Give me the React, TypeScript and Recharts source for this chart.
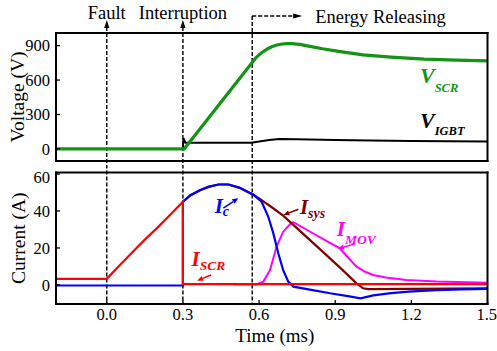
import React from 'react';
import { LineChart, Line, XAxis, YAxis, ReferenceLine, ReferenceDot } from 'recharts';

const FONT = '"Liberation Serif", "Times New Roman", Times, serif';

// Axes
const timeDomain: [number, number] = [-0.2, 1.5];
const timeTicks = [0, 0.3, 0.6, 0.9, 1.2, 1.5];
const voltageDomain: [number, number] = [-105, 1010];
const voltageTicks = [0, 300, 600, 900];
const currentDomain: [number, number] = [-10.3, 60.8];
const currentTicks = [0, 20, 40, 60];

// Event markers
const eventTimes = [0, 0.3];
const eventLabels = ['Fault', 'Interruption'];
const releaseTime = 0.573;
const releaseLabel = 'Energy Releasing';

// Voltage series (ms, V)
const vScrTime = [-0.2, 0.305, 0.59, 0.61, 0.63, 0.65, 0.67, 0.69, 0.71, 0.73, 0.76, 0.79, 0.85, 0.92, 1.01, 1.12, 1.25, 1.38, 1.5];
const vScrValue = [0, 0, 800, 838, 868, 890, 905, 914, 918, 918, 911, 898, 873, 848, 820, 800, 782, 773, 768];
const vIgbtTime = [-0.2, 0.3, 0.302, 0.31, 0.57, 0.6, 0.64, 0.68, 0.75, 0.9, 1.04, 1.2, 1.5];
const vIgbtValue = [0, 0, 95, 55, 55, 64, 78, 86, 85, 79, 73, 69, 64];

// Current series (ms, A)
const iScrTime = [-0.2, 0, 0.05, 0.1, 0.15, 0.2, 0.25, 0.3, 0.3, 1.5];
const iScrValue = [3.3, 3.3, 10.5, 17.5, 24.5, 31, 38, 45, 0.4, 0.4];
const icTime = [-0.2, 0.3, 0.3, 0.33, 0.367, 0.4, 0.44, 0.48, 0.524, 0.577, 0.61, 0.636, 0.656, 0.676, 0.695, 0.715, 0.735, 0.8, 0.88, 0.95, 1.0, 1.05, 1.12, 1.19, 1.3, 1.4, 1.5];
const icValue = [-0.3, -0.3, 45, 48.5, 51.2, 53, 54.3, 54.3, 52.5, 48.8, 45, 37, 28, 17, 8, 1.8, -0.9, -2.5, -4.5, -6, -7.2, -5.6, -4.4, -3.6, -2.8, -2.4, -2.1];
const iSysTime = [0.3, 0.33, 0.367, 0.4, 0.44, 0.48, 0.524, 0.577, 0.603, 0.65, 0.695, 0.787, 0.918, 0.984, 1.01, 1.03, 1.5];
const iSysValue = [45, 48.5, 51.2, 53, 54.3, 54.3, 52.5, 48.8, 46.5, 42, 37.5, 26, 9.5, 0.9, -1.8, -2.3, -1.8];
const iMovTime = [0.5, 0.59, 0.617, 0.643, 0.669, 0.695, 0.722, 0.735, 0.8, 0.86, 0.918, 0.95, 0.984, 1.02, 1.05, 1.1, 1.18, 1.3, 1.5];
const iMovValue = [0.3, 0.3, 1.8, 8, 20.7, 28.8, 32.8, 33.9, 28.9, 24.3, 19.8, 15, 9.9, 7, 5.4, 4, 2.7, 1.8, 1.2];

const COLORS = {
  vScr: '#149414',
  vIgbt: '#000000',
  iScr: '#ff0000',
  ic: '#0000ff',
  iSys: '#800000',
  iMov: '#ff00ff',
};

const toPoints = (ts: number[], vs: number[]) => ts.map((t, i) => ({ t, v: vs[i] }));

const axisLine = { stroke: '#000', strokeWidth: 2, strokeLinecap: 'square' as const };
const tickLine = { stroke: '#000', strokeWidth: 1.3 };
const tickStyle = { fill: '#000', fontSize: 16.5, fontFamily: FONT };

const topMarker = (label: string) => (p: any) => {
  const x = p.x1;
  const top = Math.min(p.y1, p.y2);
  const bottom = Math.max(p.y1, p.y2);
  return (
    <g>
      <line x1={x} x2={x} y1={top - 6} y2={bottom + 10} stroke="#000" strokeWidth={1.4} strokeDasharray="4 2" />
      <polygon points={`${x},${top - 13} ${x - 2.6},${top - 5} ${x + 2.6},${top - 5}`} fill="#000" />
      <text x={x} y={top - 14.5} textAnchor="middle" fontSize={18.5} fontFamily={FONT} fill="#000">{label}</text>
    </g>
  );
};

const releaseMarkerTop = (label: string) => (p: any) => {
  const x = p.x1;
  const top = Math.min(p.y1, p.y2);
  const bottom = Math.max(p.y1, p.y2);
  const yh = top - 17;
  return (
    <g>
      <line x1={x} x2={x} y1={yh} y2={bottom + 10} stroke="#000" strokeWidth={1.4} strokeDasharray="4 2" />
      <line x1={x} x2={x + 41} y1={yh} y2={yh} stroke="#000" strokeWidth={1.4} strokeDasharray="4 2" />
      <polygon points={`${x + 50},${yh} ${x + 41},${yh - 2.6} ${x + 41},${yh + 2.6}`} fill="#000" />
      <text x={x + 63} y={top - 10} textAnchor="start" fontSize={18.5} fontFamily={FONT} fill="#000">{label}</text>
    </g>
  );
};

const bottomMarker = (p: any) => {
  const x = p.x1;
  const top = Math.min(p.y1, p.y2);
  const bottom = Math.max(p.y1, p.y2);
  return <line x1={x} x2={x} y1={top - 8} y2={bottom} stroke="#000" strokeWidth={1.4} strokeDasharray="4 2" />;
};

const seriesLabel = (main: string, sub: string, color: string, mainSize: number, subSize: number, subDy: number) => (p: any) => (
  <text x={p.cx} y={p.cy} fill={color} fontFamily={FONT} fontStyle="italic" fontWeight="bold">
    <tspan fontSize={mainSize}>{main}</tspan>
    <tspan fontSize={subSize} dy={subDy}>{sub}</tspan>
  </text>
);

const arrowShape = (color: string) => (p: any) => {
  const { x1, y1, x2, y2 } = p;
  const ang = Math.atan2(y2 - y1, x2 - x1);
  const L = 6;
  const W = 2.6;
  const bx = x2 - L * Math.cos(ang);
  const by = y2 - L * Math.sin(ang);
  const px = -Math.sin(ang) * W;
  const py = Math.cos(ang) * W;
  return (
    <g>
      <line x1={x1} y1={y1} x2={bx} y2={by} stroke={color} strokeWidth={1.5} />
      <polygon points={`${x2},${y2} ${bx + px},${by + py} ${bx - px},${by - py}`} fill={color} />
    </g>
  );
};

const rotatedTitle = (text: string, dx: number) => ({ viewBox }: any) => {
  const x = viewBox.x + dx;
  const y = viewBox.y + viewBox.height / 2;
  return (
    <text x={x} y={y} transform={`rotate(-90 ${x} ${y})`} textAnchor="middle" fontSize={19.5} fontFamily={FONT} fill="#000">
      {text}
    </text>
  );
};

const timeTitle = ({ viewBox }: any) => (
  <text x={viewBox.x + viewBox.width / 2 + 3} y={viewBox.y + 38} textAnchor="middle" fontSize={19} fontFamily={FONT} fill="#000">
    Time (ms)
  </text>
);

export default function App() {
  return (
    <div style={{ position: 'absolute', left: 0, top: 0, width: 497, height: 351, background: '#fff' }}>
      <LineChart width={497} height={167} margin={{ top: 32, right: 8.5, bottom: 5, left: 0 }}>
        <XAxis type="number" dataKey="t" domain={timeDomain} ticks={timeTicks} allowDataOverflow height={1}
          tickSize={-4} tick={false} axisLine={axisLine} tickLine={tickLine} />
        <XAxis xAxisId="top" orientation="top" type="number" dataKey="t" domain={timeDomain} ticks={timeTicks} allowDataOverflow height={1}
          tickSize={-4} tick={false} axisLine={axisLine} tickLine={tickLine} />
        <YAxis type="number" domain={voltageDomain} ticks={voltageTicks} allowDataOverflow width={56}
          tickSize={-4} tickMargin={10} tick={tickStyle} axisLine={axisLine} tickLine={tickLine}
          label={{ content: rotatedTitle('Voltage (V)', 24) }} />
        <YAxis yAxisId="right" orientation="right" type="number" domain={voltageDomain} ticks={voltageTicks} allowDataOverflow width={1}
          tickSize={-4} tick={false} axisLine={axisLine} tickLine={tickLine} />
        {eventTimes.map((t, i) => (
          <ReferenceLine key={`ev${i}`} x={t} shape={topMarker(eventLabels[i])} />
        ))}
        <ReferenceLine x={releaseTime} shape={releaseMarkerTop(releaseLabel)} />
        <Line data={toPoints(vIgbtTime, vIgbtValue)} dataKey="v" type="linear" stroke={COLORS.vIgbt} strokeWidth={2} dot={false} activeDot={false} isAnimationActive={false} />
        <Line data={toPoints(vScrTime, vScrValue)} dataKey="v" type="linear" stroke={COLORS.vScr} strokeWidth={3.2} strokeLinejoin="round" dot={false} activeDot={false} isAnimationActive={false} />
        <ReferenceDot x={1.234} y={575} shape={seriesLabel('V', 'SCR', COLORS.vScr, 22, 12.5, 9)} />
        <ReferenceDot x={1.234} y={183} shape={seriesLabel('V', 'IGBT', COLORS.vIgbt, 22, 12.5, 7)} />
      </LineChart>
      <LineChart width={497} height={184} margin={{ top: 4.5, right: 8.5, bottom: 0, left: 0 }}>
        <XAxis type="number" dataKey="t" domain={timeDomain} ticks={timeTicks} allowDataOverflow height={47}
          tickSize={-4} tickMargin={8.3} tick={tickStyle} tickFormatter={(v: number) => v.toFixed(1)}
          axisLine={axisLine} tickLine={tickLine} label={{ content: timeTitle }} />
        <XAxis xAxisId="top" orientation="top" type="number" dataKey="t" domain={timeDomain} ticks={timeTicks} allowDataOverflow height={1}
          tickSize={-4} tick={false} axisLine={axisLine} tickLine={tickLine} />
        <YAxis type="number" domain={currentDomain} ticks={currentTicks} allowDataOverflow width={56}
          tickSize={-4} tickMargin={10} tick={tickStyle} axisLine={axisLine} tickLine={tickLine}
          label={{ content: rotatedTitle('Current (A)', 25) }} />
        <YAxis yAxisId="right" orientation="right" type="number" domain={currentDomain} ticks={currentTicks} allowDataOverflow width={1}
          tickSize={-4} tick={false} axisLine={axisLine} tickLine={tickLine} />
        {eventTimes.map((t, i) => (
          <ReferenceLine key={`bev${i}`} x={t} shape={bottomMarker} />
        ))}
        <ReferenceLine x={releaseTime} shape={bottomMarker} />
        <Line data={toPoints(iMovTime, iMovValue)} dataKey="v" type="linear" stroke={COLORS.iMov} strokeWidth={2} dot={false} activeDot={false} isAnimationActive={false} />
        <Line data={toPoints(iSysTime, iSysValue)} dataKey="v" type="linear" stroke={COLORS.iSys} strokeWidth={2.2} dot={false} activeDot={false} isAnimationActive={false} />
        <Line data={toPoints(icTime, icValue)} dataKey="v" type="linear" stroke={COLORS.ic} strokeWidth={2.2} dot={false} activeDot={false} isAnimationActive={false} />
        <Line data={toPoints(iScrTime, iScrValue)} dataKey="v" type="linear" stroke={COLORS.iScr} strokeWidth={2.2} dot={false} activeDot={false} isAnimationActive={false} />
        <ReferenceLine segment={[{ x: 0.459, y: 41.5 }, { x: 0.518, y: 46.9 }]} shape={arrowShape(COLORS.ic)} />
        <ReferenceLine segment={[{ x: 0.755, y: 40.9 }, { x: 0.696, y: 37.8 }]} shape={arrowShape(COLORS.iSys)} />
        <ReferenceLine segment={[{ x: 0.978, y: 22.2 }, { x: 0.911, y: 19.6 }]} shape={arrowShape(COLORS.iMov)} />
        <ReferenceLine segment={[{ x: 0.411, y: 5.4 }, { x: 0.356, y: 2.3 }]} shape={arrowShape(COLORS.iScr)} />
        <ReferenceDot x={0.425} y={38.9} shape={seriesLabel('I', 'c', COLORS.ic, 21, 14, 3)} />
        <ReferenceDot x={0.761} y={38.4} shape={seriesLabel('I', 'sys', COLORS.iSys, 21, 14, 4)} />
        <ReferenceDot x={0.906} y={26.2} shape={seriesLabel('I', 'MOV', COLORS.iMov, 21, 13.5, 8)} />
        <ReferenceDot x={0.334} y={10.3} shape={seriesLabel('I', 'SCR', COLORS.iScr, 21, 13.5, 4)} />
      </LineChart>
    </div>
  );
}
